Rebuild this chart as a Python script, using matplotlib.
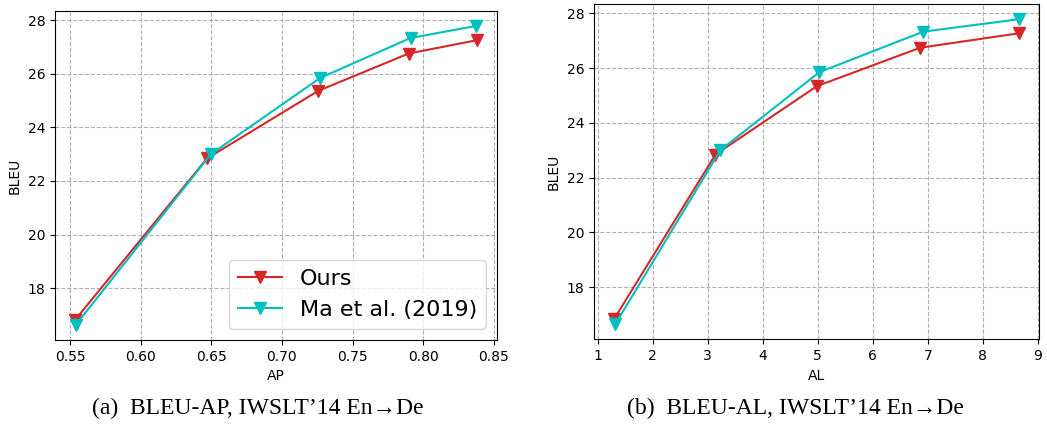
import matplotlib.pyplot as plt

# BLEU vs AP
ap_ours = [0.5536, 0.647, 0.7257, 0.7896, 0.838]
bleu_ap_ours = [16.82, 22.84, 25.36, 26.75, 27.25]
ap_ma = [0.5540, 0.6497, 0.7270, 0.791, 0.8374]
bleu_ap_ma = [16.63, 23.0, 25.84, 27.33, 27.78]

# BLEU vs AL
al_ours = [1.30, 3.14, 4.985, 6.86, 8.66]
bleu_al_ours = [16.84, 22.84, 25.34, 26.74, 27.27]
al_ma = [1.32, 3.23, 5.03, 6.92, 8.65]
bleu_al_ma = [16.65, 23.0, 25.85, 27.33, 27.78]

red = '#d62728'
cyan = '#00bfbf'

fig = plt.figure(figsize=(10.47, 4.26), dpi=100)
ax1 = fig.add_axes([0.0525, 0.2019, 0.4222, 0.7723])
ax2 = fig.add_axes([0.5673, 0.2035, 0.4254, 0.787])

ax1.plot(ap_ours, bleu_ap_ours, color=red, marker='v', ms=8, lw=1.5, label='Ours')
ax1.plot(ap_ma, bleu_ap_ma, color=cyan, marker='v', ms=8, lw=1.5, label='Ma et al. (2019)')
ax1.set_xlabel('AP', fontsize=10)
ax1.legend(loc='lower right', fontsize=16)

ax2.plot(al_ours, bleu_al_ours, color=red, marker='v', ms=8, lw=1.5)
ax2.plot(al_ma, bleu_al_ma, color=cyan, marker='v', ms=8, lw=1.5)
ax2.set_xlabel('AL', fontsize=10)
ax2.set_xticks(range(1, 10))

for ax in (ax1, ax2):
    ax.set_ylabel('BLEU', fontsize=10)
    ax.set_yticks([18, 20, 22, 24, 26, 28])
    ax.tick_params(labelsize=10)
    ax.grid(True, linestyle='--', color='#b0b0b0', lw=0.8)

cap = dict(fontsize=17, family=['Liberation Serif', 'DejaVu Serif'], ha='center', va='center')
fig.text(258 / 1047, 1 - 408 / 426, '(a)  BLEU-AP, IWSLT\u201914 En\u2192De', **cap)
fig.text(795 / 1047, 1 - 408 / 426, '(b)  BLEU-AL, IWSLT\u201914 En\u2192De', **cap)

fig.savefig('out.png', dpi=100)
